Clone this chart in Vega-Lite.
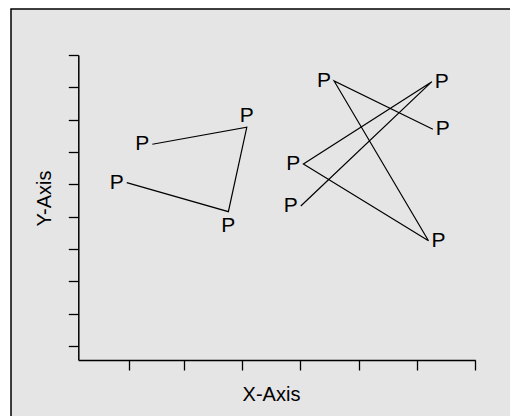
{
  "$schema": "https://vega.github.io/schema/vega-lite/v6.json",
  "width": 520,
  "height": 420,
  "autosize": {"type": "none"},
  "padding": {"left": 11, "top": 9, "right": -21, "bottom": -13},
  "background": "white",
  "data": {
    "values": [
      {"series": "A", "order": 1, "x": 1.021, "y": 6.051, "side": "left", "label": "P"},
      {"series": "A", "order": 2, "x": 2.764, "y": 5.154, "side": "below", "label": "P"},
      {"series": "A", "order": 3, "x": 3.080, "y": 7.765, "side": "above", "label": "P"},
      {"series": "A", "order": 4, "x": 1.460, "y": 7.239, "side": "left", "label": "P"},
      {"series": "B", "order": 1, "x": 4.007, "y": 5.330, "side": "left", "label": "P"},
      {"series": "B", "order": 2, "x": 6.255, "y": 9.175, "side": "right", "label": "P"},
      {"series": "B", "order": 3, "x": 4.051, "y": 6.629, "side": "left", "label": "P"},
      {"series": "B", "order": 4, "x": 6.197, "y": 4.257, "side": "right", "label": "P"},
      {"series": "B", "order": 5, "x": 4.578, "y": 9.197, "side": "left", "label": "P"},
      {"series": "B", "order": 6, "x": 6.272, "y": 7.703, "side": "right", "label": "P"}
    ]
  },
  "encoding": {
    "x": {
      "field": "x",
      "type": "quantitative",
      "scale": {"domain": [0.19, 7.0], "range": [67.3, 464.3], "nice": false, "zero": false},
      "axis": {
        "title": "X-Axis",
        "labels": false,
        "grid": false,
        "values": [1.065, 2, 3, 4, 5, 6, 7],
        "tickSize": 10,
        "tickColor": "black",
        "tickWidth": 1.3,
        "domainColor": "black",
        "domainWidth": 1.5,
        "offset": -69,
        "titlePadding": 14,
        "titleX": 260
      }
    },
    "y": {
      "field": "y",
      "type": "quantitative",
      "scale": {"domain": [0.567, 10], "range": [351, 46], "nice": false, "zero": false},
      "axis": {
        "title": "Y-Axis",
        "labels": false,
        "grid": false,
        "values": [1, 2, 3, 4, 5, 6, 7, 8, 9, 10],
        "tickSize": 10,
        "tickColor": "black",
        "tickWidth": 1.3,
        "domainColor": "black",
        "domainWidth": 1.5,
        "offset": -67.3,
        "titlePadding": 13,
        "titleY": 189
      }
    }
  },
  "layer": [
    {
      "mark": {"type": "line", "color": "black", "strokeWidth": 1.2},
      "encoding": {
        "detail": {"field": "series", "type": "nominal"},
        "order": {"field": "order", "type": "quantitative"}
      }
    },
    {
      "transform": [{"filter": "datum.side === 'left'"}],
      "mark": {"type": "text", "align": "right", "baseline": "middle", "dx": -3, "color": "black", "fontSize": 21, "font": "Liberation Sans"},
      "encoding": {"text": {"field": "label"}}
    },
    {
      "transform": [{"filter": "datum.side === 'right'"}],
      "mark": {"type": "text", "align": "left", "baseline": "middle", "dx": 3, "color": "black", "fontSize": 21, "font": "Liberation Sans"},
      "encoding": {"text": {"field": "label"}}
    },
    {
      "transform": [{"filter": "datum.side === 'above'"}],
      "mark": {"type": "text", "align": "center", "baseline": "alphabetic", "dy": -5, "color": "black", "fontSize": 21, "font": "Liberation Sans"},
      "encoding": {"text": {"field": "label"}}
    },
    {
      "transform": [{"filter": "datum.side === 'below'"}],
      "mark": {"type": "text", "align": "center", "baseline": "top", "dy": 3.5, "color": "black", "fontSize": 21, "font": "Liberation Sans"},
      "encoding": {"text": {"field": "label"}}
    }
  ],
  "config": {
    "view": {"stroke": "black", "strokeWidth": 1.5, "fill": "#e5e5e5"},
    "axis": {
      "titleFont": "Liberation Sans",
      "titleFontSize": 20,
      "titleFontWeight": "normal",
      "titleColor": "black"
    }
  }
}
